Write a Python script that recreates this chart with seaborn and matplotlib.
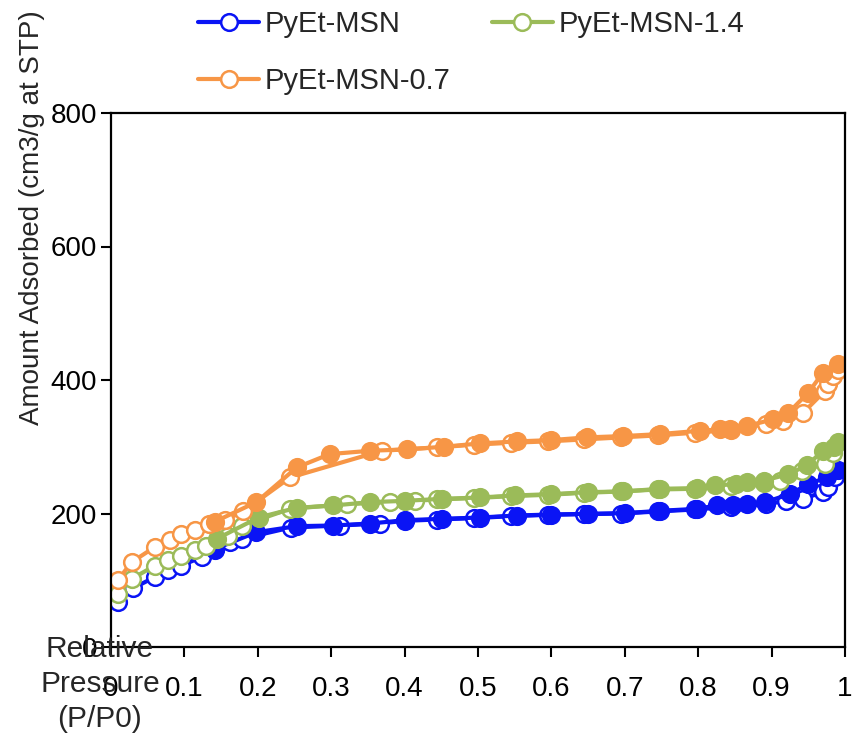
import numpy as np
import pandas as pd
import matplotlib
matplotlib.use("Agg")
import matplotlib.pyplot as plt
from matplotlib.lines import Line2D
import seaborn as sns

# ---------------- data ----------------
series_names = ["PyEt-MSN", "PyEt-MSN-1.4", "PyEt-MSN-0.7"]
series_colors = ["#0A14F5", "#9BBB59", "#F79646"]

# PyEt-MSN
msn_ads_p = [0.010, 0.030, 0.060, 0.078, 0.096, 0.124, 0.142, 0.162, 0.178, 0.245, 0.312, 0.366,
             0.400, 0.444, 0.494, 0.545, 0.595, 0.645, 0.695, 0.745, 0.795, 0.845, 0.893, 0.920,
             0.943, 0.970, 0.977, 0.986]
msn_ads_v = [68, 88, 105, 115, 122, 135, 145, 157, 162, 179, 182, 185,
             189, 191, 193, 196, 198, 199, 200, 203, 206, 210, 214, 219,
             222, 232, 239, 254]
msn_des_p = [0.991, 0.975, 0.950, 0.925, 0.891, 0.866, 0.848, 0.825, 0.798, 0.748, 0.700, 0.650,
             0.600, 0.553, 0.503, 0.451, 0.401, 0.353, 0.303, 0.253, 0.198, 0.142]
msn_des_v = [265, 254, 244, 229, 217, 214, 213, 212, 207, 204, 200.5, 199.5,
             198.5, 197, 194, 192, 190, 185, 182, 181, 172, 147]

# PyEt-MSN-1.4
m14_ads_p = [0.010, 0.028, 0.060, 0.078, 0.096, 0.114, 0.130, 0.160, 0.178, 0.244, 0.321, 0.380,
             0.414, 0.444, 0.494, 0.545, 0.595, 0.645, 0.695, 0.745, 0.795, 0.845, 0.890, 0.911,
             0.941, 0.973, 0.984]
m14_ads_v = [80, 102, 122, 130, 137, 145, 152, 167, 182, 207, 214, 217,
             219, 221, 223, 226, 228, 231, 233, 236, 237, 241, 246, 249,
             264, 274, 290]
m14_des_p = [0.991, 0.985, 0.970, 0.948, 0.923, 0.889, 0.866, 0.852, 0.823, 0.798, 0.748, 0.698,
             0.650, 0.600, 0.550, 0.503, 0.451, 0.401, 0.353, 0.303, 0.253, 0.201, 0.144]
m14_des_v = [307, 300, 294, 272, 259, 249, 247, 244, 242, 238, 237, 233,
             232, 229, 227, 224, 222, 219, 217, 212, 208.5, 194, 162]

# PyEt-MSN-0.7
m07_ads_p = [0.010, 0.028, 0.060, 0.080, 0.096, 0.114, 0.133, 0.155, 0.180, 0.244, 0.369, 0.444,
             0.494, 0.545, 0.595, 0.645, 0.695, 0.745, 0.795, 0.845, 0.893, 0.916, 0.943, 0.973,
             0.977, 0.984, 0.990]
m07_ads_v = [101, 127, 150, 160, 169, 176, 185, 190, 203, 254, 294, 299,
             303, 306, 308, 311, 314, 317, 321, 325, 334, 339, 351, 384,
             394, 406, 415]
m07_des_p = [0.990, 0.970, 0.950, 0.923, 0.902, 0.866, 0.843, 0.830, 0.802, 0.748, 0.698, 0.648,
             0.600, 0.553, 0.503, 0.453, 0.403, 0.353, 0.298, 0.253, 0.198, 0.142]
m07_des_v = [424, 411, 381, 351, 341, 331, 327, 326, 324, 319, 316, 314,
             310, 308, 305, 300, 296, 294, 289, 269, 217, 188]

x_ticks = [0, 0.1, 0.2, 0.3, 0.4, 0.5, 0.6, 0.7, 0.8, 0.9, 1.0]
x_tick_labels = ["0", "0.1", "0.2", "0.3", "0.4", "0.5", "0.6", "0.7", "0.8", "0.9", "1"]
y_ticks = [0, 200, 400, 600, 800]
y_tick_labels = ["0", "200", "400", "600", "800"]

x_label = "Relative\nPressure\n(P/P0)"
y_label = "Amount Adsorbed (cm3/g at STP)"

# ---------------- style ----------------
sns.set_style("white")
plt.rcParams["font.family"] = ["Liberation Sans", "DejaVu Sans"]

W, H = 854, 736
fig = plt.figure(figsize=(W / 100, H / 100), dpi=100)
ax = fig.add_axes([111 / W, 1 - 647 / H, (845 - 111) / W, (647 - 113) / H])

branches = [
    (0, msn_ads_p, msn_ads_v, msn_des_p, msn_des_v),
    (1, m14_ads_p, m14_ads_v, m14_des_p, m14_des_v),
    (2, m07_ads_p, m07_ads_v, m07_des_p, m07_des_v),
]

ms = 12
mew = 1.8
lw = 3.0
for idx, ap, av, dp, dv in branches:
    c = series_colors[idx]
    ads = pd.DataFrame({"P": ap, "V": av})
    des = pd.DataFrame({"P": dp, "V": dv})
    sns.lineplot(data=ads, x="P", y="V", ax=ax, estimator=None, sort=False,
                 color=c, linewidth=lw, marker="o", markersize=ms,
                 markerfacecolor="white", markeredgecolor=c, markeredgewidth=mew)
    sns.lineplot(data=des, x="P", y="V", ax=ax, estimator=None, sort=False,
                 color=c, linewidth=lw, marker="o", markersize=ms,
                 markerfacecolor=c, markeredgecolor=c, markeredgewidth=mew)

ax.set_xlim(0, 1)
ax.set_ylim(0, 800)
ax.set_xticks(x_ticks)
ax.set_xticklabels(x_tick_labels)
ax.set_yticks(y_ticks)
ax.set_yticklabels(y_tick_labels)
ax.set_xlabel("")
ax.set_ylabel("")
ax.tick_params(axis="both", direction="out", length=7, width=1.5, color="black",
               labelsize=20, labelcolor="black")
ax.tick_params(axis="x", pad=14)
ax.tick_params(axis="y", pad=3)
ax.tick_params(bottom=True, left=True)
for s in ax.spines.values():
    s.set_visible(True)
    s.set_color("black")
    s.set_linewidth(1.6)

fig.text(100 / W, 1 - 684 / H, x_label, ha="center", va="center", fontsize=21.5,
         linespacing=1.32)
fig.text(32 / W, 1 - 218 / H, y_label, ha="center", va="center", rotation=90,
         fontsize=20)

# legend
handles = []
order = [0, 2, 1]
for i in order:
    c = series_colors[i]
    handles.append(Line2D([], [], color=c, linewidth=lw, marker="o", markersize=ms,
                          markerfacecolor="white", markeredgecolor=c,
                          markeredgewidth=mew, label=series_names[i]))
fig.legend(handles=handles, loc="upper left", bbox_to_anchor=(198 / W, 1 - 10 / H),
           ncol=2, frameon=False, fontsize=21, borderpad=0, borderaxespad=0,
           handlelength=2.1, handletextpad=0.2, columnspacing=1.4, labelspacing=1.0)

fig.savefig("out.png", dpi=100)
